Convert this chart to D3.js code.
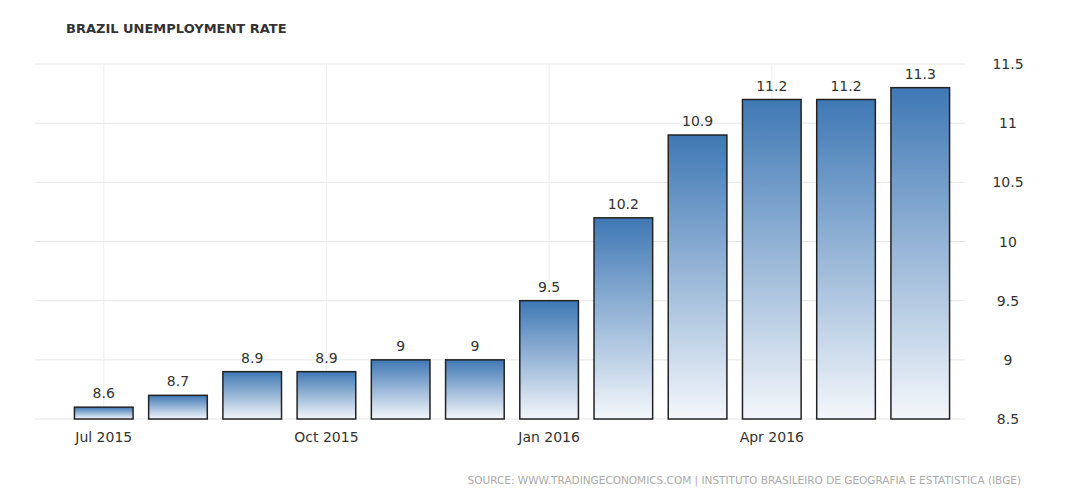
<!DOCTYPE html>
<html>
<head>
<meta charset="utf-8">
<script src="https://cdn.jsdelivr.net/npm/d3@7"></script>
<style>
  body { margin: 0; background: #fff; }
  text { font-family: "DejaVu Sans", sans-serif; }
</style>
</head>
<body>
<svg id="chart" width="1080" height="501"></svg>
<script>
const months = ["Jul 2015", "Aug 2015", "Sep 2015", "Oct 2015", "Nov 2015", "Dec 2015",
  "Jan 2016", "Feb 2016", "Mar 2016", "Apr 2016", "May 2016", "Jun 2016"];
const rates = [8.6, 8.7, 8.9, 8.9, 9, 9, 9.5, 10.2, 10.9, 11.2, 11.2, 11.3];
const xTickLabels = ["Jul 2015", "Oct 2015", "Jan 2016", "Apr 2016"];
const yTicks = [8.5, 9, 9.5, 10, 10.5, 11, 11.5];

const svg = d3.select("#chart");

// gradient for the bars
const grad = svg.append("defs").append("linearGradient")
  .attr("id", "barGrad").attr("x1", 0).attr("y1", 0).attr("x2", 0).attr("y2", 1);
grad.append("stop").attr("offset", "0%").attr("stop-color", "#3f78b5");
grad.append("stop").attr("offset", "100%").attr("stop-color", "#f4f7fb");

const x = d3.scaleBand().domain(months).range([67, 957]).paddingInner(0.21).paddingOuter(0.1);
const y = d3.scaleLinear().domain([8.5, 11.5]).range([419, 64]);

// horizontal grid
svg.append("g").selectAll("line").data(yTicks).enter().append("line")
  .attr("x1", 35).attr("x2", 965)
  .attr("y1", d => y(d)).attr("y2", d => y(d))
  .attr("stroke", "#e6e6e6");

// vertical grid at labelled months
svg.append("g").selectAll("line").data(xTickLabels).enter().append("line")
  .attr("x1", d => x(d) + x.bandwidth() / 2).attr("x2", d => x(d) + x.bandwidth() / 2)
  .attr("y1", 64).attr("y2", 419)
  .attr("stroke", "#efefef");

// bars
svg.append("g").selectAll("rect").data(rates).enter().append("rect")
  .attr("x", (d, i) => x(months[i]))
  .attr("y", d => y(d))
  .attr("width", x.bandwidth())
  .attr("height", d => y(8.5) - y(d))
  .attr("fill", "url(#barGrad)")
  .attr("stroke", "#222")
  .attr("stroke-width", 1.5);

// value labels
svg.append("g").selectAll("text").data(rates).enter().append("text")
  .attr("x", (d, i) => x(months[i]) + x.bandwidth() / 2)
  .attr("y", d => y(d) - 9)
  .attr("text-anchor", "middle")
  .attr("font-size", 14)
  .attr("fill", "#333")
  .text(d => d);

// x axis labels
svg.append("g").selectAll("text").data(xTickLabels).enter().append("text")
  .attr("x", d => x(d) + x.bandwidth() / 2)
  .attr("y", 442)
  .attr("text-anchor", "middle")
  .attr("font-size", 14)
  .attr("fill", "#333")
  .text(d => d);

// y axis labels on the right
svg.append("g").selectAll("text").data(yTicks).enter().append("text")
  .attr("x", 1008)
  .attr("y", d => y(d) + 5)
  .attr("text-anchor", "middle")
  .attr("font-size", 14)
  .attr("fill", "#333")
  .text(d => d);

svg.append("text").attr("x", 66).attr("y", 33)
  .attr("font-size", 13).attr("font-weight", "bold").attr("fill", "#333")
  .text("BRAZIL UNEMPLOYMENT RATE");

svg.append("text").attr("x", 1021).attr("y", 484)
  .attr("text-anchor", "end")
  .attr("font-size", 10.5).attr("fill", "#aaa")
  .text("SOURCE: WWW.TRADINGECONOMICS.COM | INSTITUTO BRASILEIRO DE GEOGRAFIA E ESTATISTICA (IBGE)");
</script>
</body>
</html>
